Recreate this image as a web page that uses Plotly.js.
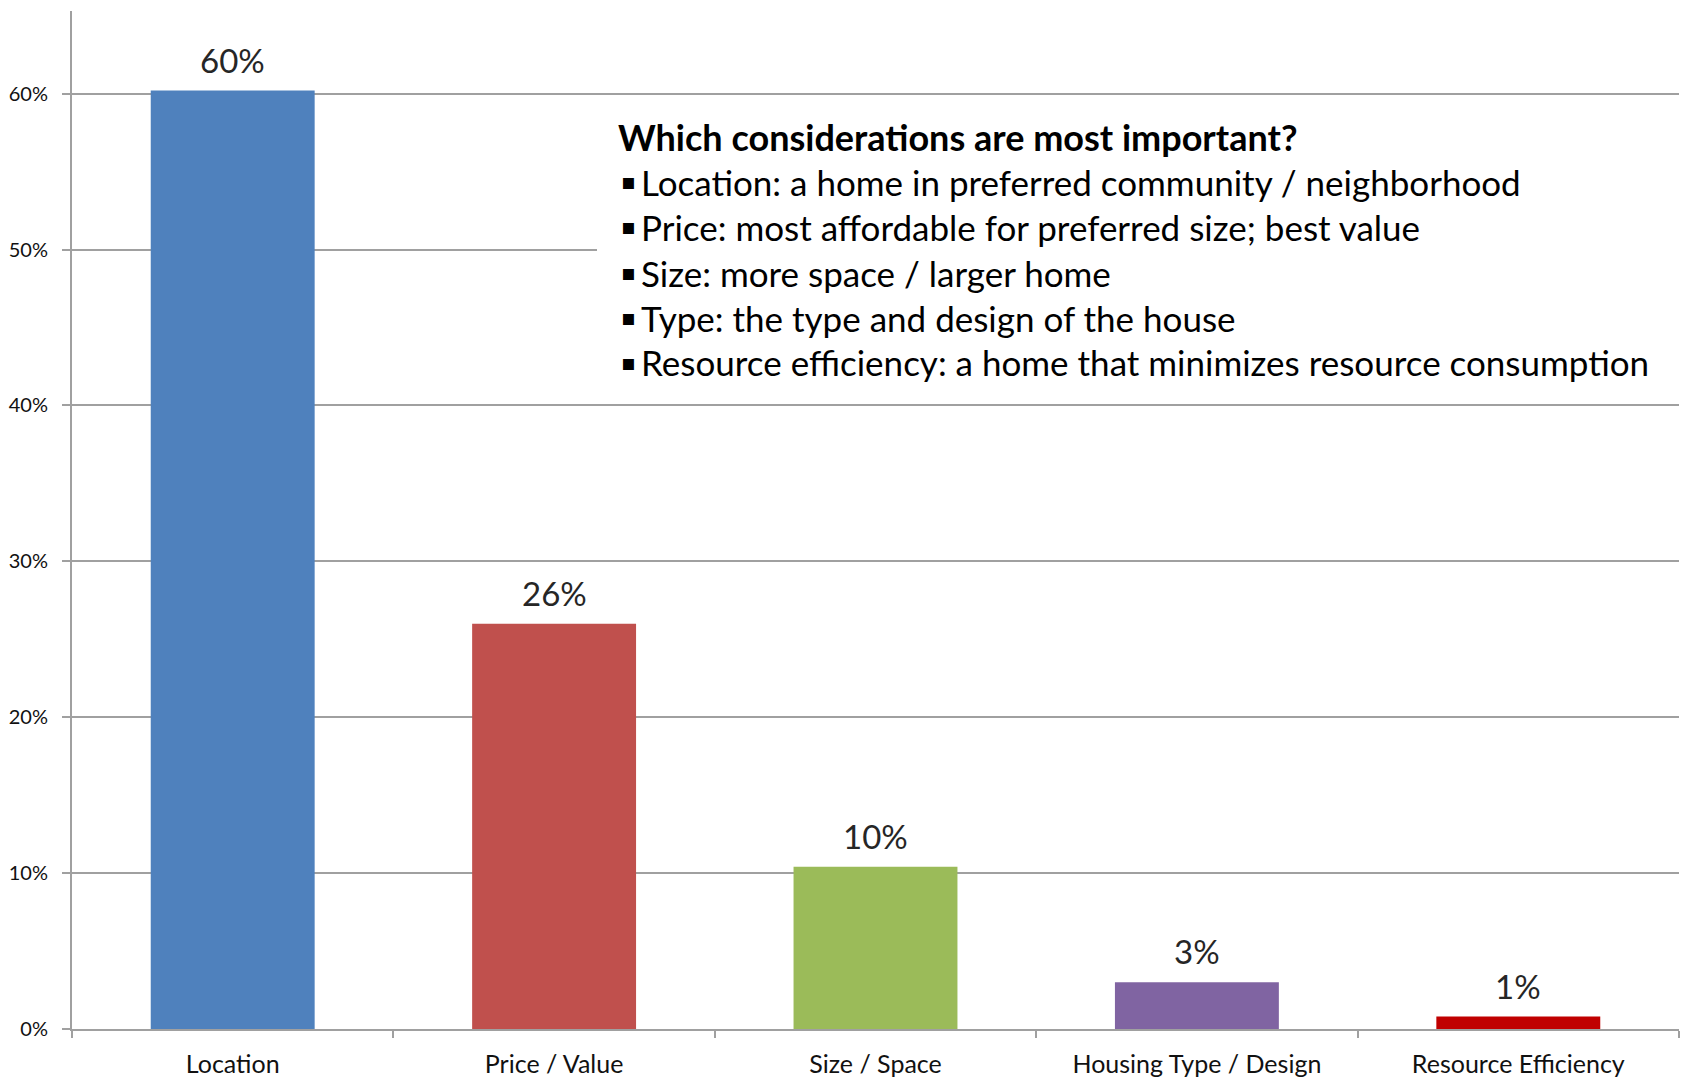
<!DOCTYPE html>
<html>
<head>
<meta charset="utf-8">
<script src="https://cdn.plot.ly/plotly-3.0.1.min.js"></script>
<style>html,body{margin:0;padding:0;background:#fff;}#chart{width:1683px;height:1077px;}</style>
</head>
<body>
<div id="chart"></div>
<script>
const categories = ["Location", "Price / Value", "Size / Space", "Housing Type / Design", "Resource Efficiency"];
const values = [60.2, 26.0, 10.4, 3.0, 0.8];
const valueLabels = ["60%", "26%", "10%", "3%", "1%"];
const barColors = ["#4F81BD", "#C0504D", "#9BBB59", "#8064A2", "#C00000"];
const yTickVals = [0, 10, 20, 30, 40, 50, 60];
const yTickText = ["0%", "10%", "20%", "30%", "40%", "50%", "60%"];
const boxTitle = "Which considerations are most important?";
const boxItems = [
  "Location: a home in preferred community / neighborhood",
  "Price: most affordable for preferred size; best value",
  "Size: more space / larger home",
  "Type: the type and design of the house",
  "Resource efficiency: a home that minimizes resource consumption"
];

const W = 1683, H = 1077;
const M = {l: 72, r: 4, t: 11, b: 48};
const plotW = W - M.l - M.r, plotH = H - M.t - M.b;
const px = x => (x - M.l) / plotW;
const py = y => (H - M.b - y) / plotH;

const FONT = "Lato, 'Open Sans', sans-serif";

const annotations = [];
// white background box for the text block (covers gridlines)
annotations.push({
  x: px(597), y: py(105), xref: 'paper', yref: 'paper',
  xanchor: 'left', yanchor: 'top', showarrow: false,
  text: ' ', width: 1090, height: 290, borderpad: 0,
  bgcolor: '#ffffff', borderwidth: 0
});
// value labels above bars
categories.forEach((c, i) => {
  annotations.push({
    x: c, y: values[i], xref: 'x', yref: 'y',
    text: valueLabels[i], showarrow: false,
    yanchor: 'bottom', yshift: 9,
    font: {family: FONT, size: 33, color: '#262626'}
  });
});
// text box
const lineY = [137, 182, 227, 272.5, 317.5, 362.5];
annotations.push({
  x: px(616), y: py(lineY[0]), xref: 'paper', yref: 'paper',
  xanchor: 'left', yanchor: 'middle', showarrow: false,
  text: '<b>' + boxTitle + '</b>',
  font: {family: FONT, size: 36, color: '#000'}
});
boxItems.forEach((t, i) => {
  annotations.push({
    x: px(619), y: py(lineY[i + 1]), xref: 'paper', yref: 'paper',
    xanchor: 'left', yanchor: 'middle', showarrow: false,
    text: '\u25AA',
    font: {family: "'DejaVu Sans', sans-serif", size: 22, color: '#000'}
  });
  annotations.push({
    x: px(639), y: py(lineY[i + 1]), xref: 'paper', yref: 'paper',
    xanchor: 'left', yanchor: 'middle', showarrow: false,
    text: t,
    font: {family: FONT, size: 35, color: '#000'}
  });
});

const trace = {
  type: 'bar',
  x: categories,
  y: values,
  marker: {color: barColors, line: {width: 0}},
  width: 0.51,
  hoverinfo: 'none'
};

const layout = {
  width: W, height: H,
  margin: M,
  paper_bgcolor: '#fff', plot_bgcolor: '#fff',
  showlegend: false,
  xaxis: {
    type: 'category',
    range: [-0.5, 4.5],
    showline: true, linecolor: '#a0a0a0', linewidth: 2,
    ticks: 'outside', tickson: 'boundaries', ticklen: 7, tickcolor: '#a0a0a0', tickwidth: 2,
    ticklabelstandoff: 12,
    showgrid: false, zeroline: false,
    tickfont: {family: FONT, size: 25, color: '#111'},
    fixedrange: true
  },
  yaxis: {
    range: [0, 65.3],
    tickvals: yTickVals, ticktext: yTickText,
    showline: true, linecolor: '#a0a0a0', linewidth: 2,
    ticks: 'outside', ticklen: 8, tickcolor: '#a0a0a0', tickwidth: 2,
    ticklabelstandoff: 10,
    showgrid: true, gridcolor: '#a0a0a0', gridwidth: 2,
    zeroline: false,
    tickfont: {family: FONT, size: 20, color: '#111'},
    fixedrange: true
  },
  annotations: annotations
};

Plotly.newPlot('chart', [trace], layout, {displayModeBar: false, staticPlot: true});
</script>
</body>
</html>
